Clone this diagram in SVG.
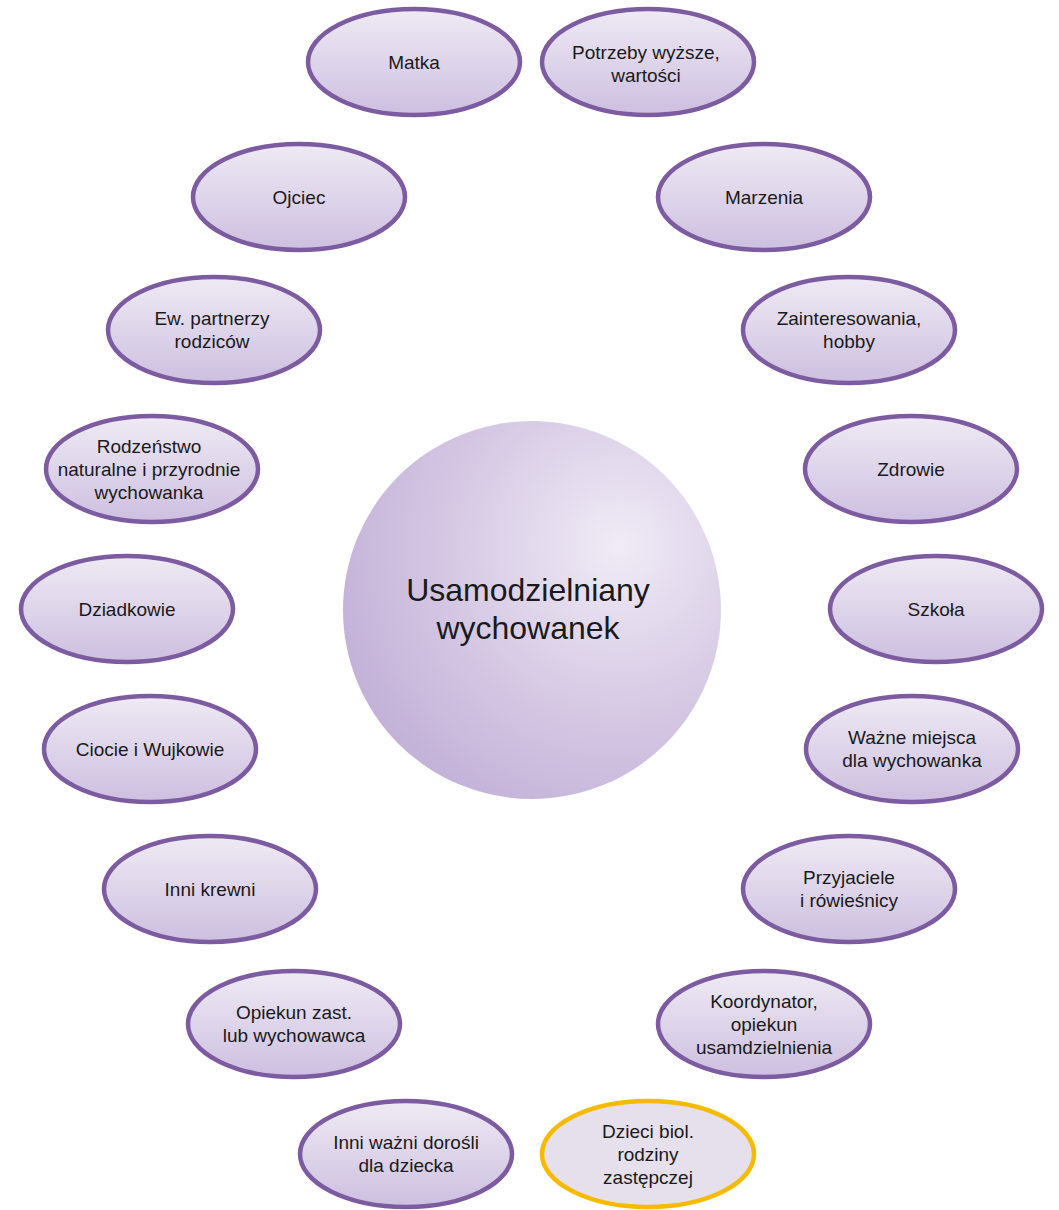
<svg xmlns="http://www.w3.org/2000/svg" width="1059" height="1210" viewBox="0 0 1059 1210">
<defs>
<linearGradient id="eg" x1="0" y1="0" x2="0" y2="1">
<stop offset="0" stop-color="#efeaf4"/>
<stop offset="1" stop-color="#cdbfe0"/>
</linearGradient>
<radialGradient id="cg" cx="0.73" cy="0.33" r="0.8" fx="0.73" fy="0.33">
<stop offset="0" stop-color="#f0ebf6"/>
<stop offset="0.55" stop-color="#d6c9e4"/>
<stop offset="1" stop-color="#c2b0d7"/>
</radialGradient>
</defs>
<style>
.n ellipse{fill:url(#eg);stroke:#7d5ba0;stroke-width:4.5}
.y ellipse{fill:#e6e0ec;stroke:#f6bb00;stroke-width:4.5}
text{font-family:"Liberation Sans",Arial,sans-serif;font-size:19px;fill:#1a1a1a;text-anchor:middle}
.c text{font-size:32px}
</style>
<rect width="1059" height="1210" fill="#fff"/>
<g id="connectors"/>
<g id="center" class="c">
<circle cx="532" cy="610" r="189" fill="url(#cg)"/>
<text x="528" y="601">Usamodzielniany</text>
<text x="528" y="639">wychowanek</text>
</g>
<g id="matka" class="n"><ellipse cx="414" cy="62" rx="106" ry="53"/><text x="414" y="69">Matka</text></g>
<g id="ojciec" class="n"><ellipse cx="299" cy="197" rx="106" ry="53"/><text x="299" y="204">Ojciec</text></g>
<g id="partnerzy" class="n"><ellipse cx="214" cy="330" rx="106" ry="53"/><text x="212" y="325">Ew. partnerzy</text><text x="212" y="348">rodziców</text></g>
<g id="rodzenstwo" class="n"><ellipse cx="152" cy="469" rx="106" ry="53"/><text x="149" y="453">Rodzeństwo</text><text x="149" y="476">naturalne i przyrodnie</text><text x="149" y="499">wychowanka</text></g>
<g id="dziadkowie" class="n"><ellipse cx="127" cy="609" rx="106" ry="53"/><text x="127" y="616">Dziadkowie</text></g>
<g id="ciocie" class="n"><ellipse cx="150" cy="749" rx="106" ry="53"/><text x="150" y="756">Ciocie i Wujkowie</text></g>
<g id="krewni" class="n"><ellipse cx="210" cy="889" rx="106" ry="53"/><text x="210" y="896">Inni krewni</text></g>
<g id="opiekun" class="n"><ellipse cx="294" cy="1024" rx="106" ry="53"/><text x="294" y="1019">Opiekun zast.</text><text x="294" y="1042">lub wychowawca</text></g>
<g id="inni-dorosli" class="n"><ellipse cx="406" cy="1154" rx="106" ry="53"/><text x="406" y="1149">Inni ważni dorośli</text><text x="406" y="1172">dla dziecka</text></g>
<g id="potrzeby" class="n"><ellipse cx="648" cy="62" rx="106" ry="53"/><text x="646" y="59">Potrzeby wyższe,</text><text x="646" y="82">wartości</text></g>
<g id="marzenia" class="n"><ellipse cx="764" cy="197" rx="106" ry="53"/><text x="764" y="204">Marzenia</text></g>
<g id="zainteresowania" class="n"><ellipse cx="849" cy="330" rx="106" ry="53"/><text x="849" y="325">Zainteresowania,</text><text x="849" y="348">hobby</text></g>
<g id="zdrowie" class="n"><ellipse cx="911" cy="469" rx="106" ry="53"/><text x="911" y="476">Zdrowie</text></g>
<g id="szkola" class="n"><ellipse cx="936" cy="609" rx="106" ry="53"/><text x="936" y="616">Szkoła</text></g>
<g id="miejsca" class="n"><ellipse cx="912" cy="749" rx="106" ry="53"/><text x="912" y="744">Ważne miejsca</text><text x="912" y="767">dla wychowanka</text></g>
<g id="przyjaciele" class="n"><ellipse cx="849" cy="889" rx="106" ry="53"/><text x="849" y="884">Przyjaciele</text><text x="849" y="907">i rówieśnicy</text></g>
<g id="koordynator" class="n"><ellipse cx="764" cy="1024" rx="106" ry="53"/><text x="764" y="1008">Koordynator,</text><text x="764" y="1031">opiekun</text><text x="764" y="1054">usamdzielnienia</text></g>
<g id="dzieci" class="y"><ellipse cx="648" cy="1154" rx="106" ry="53"/><text x="648" y="1138">Dzieci biol.</text><text x="648" y="1161">rodziny</text><text x="648" y="1184">zastępczej</text></g>
</svg>
